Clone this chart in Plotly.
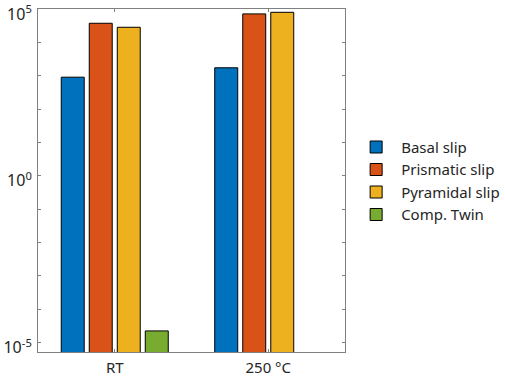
import plotly.graph_objects as go

categories = ["RT", "250 °C"]
series_names = ["Basal slip", "Prismatic slip", "Pyramidal slip", "Comp. Twin"]
basal = [910, 1740]
prismatic = [37600, 71800]
pyramidal = [28500, 80200]
comp_twin = [2.25e-5, None]
series_values = [basal, prismatic, pyramidal, comp_twin]
colors = ["#0072BD", "#D95319", "#EDB120", "#77AC30"]

decades = list(range(-5, 6))
tick_vals = [10.0 ** d for d in decades]
tick_text = ["10<sup>%d</sup>" % d if d in (-5, 0, 5) else " " for d in decades]

fig = go.Figure()
for name, vals, col in zip(series_names, series_values, colors):
    fig.add_trace(go.Bar(x=categories, y=vals, name=name,
                         marker=dict(color=col, line=dict(color="#000000", width=1))))

axis_col = "#808080"
fig.update_layout(
    width=505, height=378,
    margin=dict(l=38, r=160, t=9, b=26, autoexpand=False),
    paper_bgcolor="white", plot_bgcolor="white",
    barmode="group", bargap=0.27, bargroupgap=0.18,
    font=dict(family="Noto Sans", size=14, color="#262626"),
    legend=dict(x=1.02, y=0.645, xanchor="left", yanchor="top",
                font=dict(size=15), itemwidth=40, tracegroupgap=0,
                bgcolor="rgba(0,0,0,0)"),
    xaxis=dict(showline=True, linecolor=axis_col, linewidth=1, mirror="ticks",
               ticks="inside", ticklen=3, tickcolor=axis_col, automargin=False,
               showgrid=False, range=[-0.5, 1.5], tickfont=dict(size=15),
               ticklabelstandoff=2),
    yaxis=dict(type="log", range=[-5.28, 5.003], showline=True, linecolor=axis_col,
               linewidth=1, mirror="ticks", ticks="inside", ticklen=3, tickcolor=axis_col,
               tickvals=tick_vals, ticktext=tick_text, showgrid=False, zeroline=False,
               automargin=False, tickfont=dict(size=16), ticklabelstandoff=2,
               ticklabeloverflow="allow", ticklabelshift=5),
)
fig.write_html("out.html", config={"displayModeBar": False},
               post_script="document.body.style.margin='0';document.body.style.overflow='hidden';")
